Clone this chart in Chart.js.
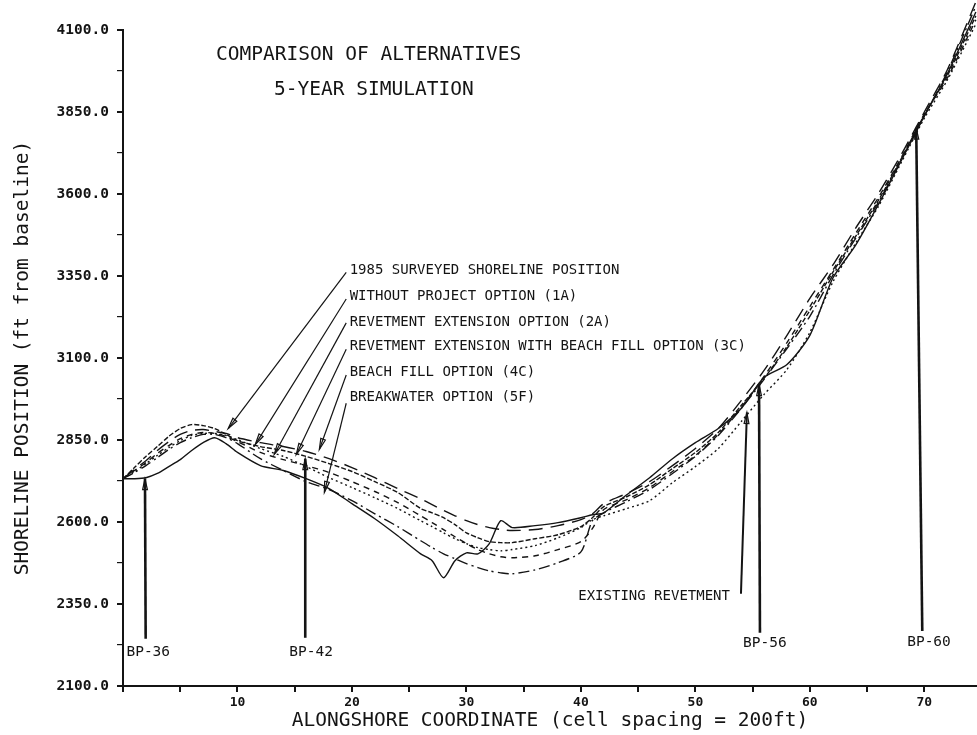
<!DOCTYPE html>
<html>
<head>
<meta charset="utf-8">
<script src="https://cdn.jsdelivr.net/npm/chart.js@4.4.1/dist/chart.umd.min.js"></script>
<style>
  html, body { margin: 0; padding: 0; background: #fff; }
</style>
</head>
<body>
<canvas id="myChart" width="977" height="735"></canvas>
<script>
// alongshore cell numbers (cell spacing = 200 ft)
const cells = [0, 1, 2, 3, 4, 5, 6, 7, 8, 9, 10, 12, 14, 16, 18, 20, 22, 24, 26, 27, 28, 29, 30, 31, 32, 33, 34,
    36, 38, 40, 41, 42, 44, 46, 48, 50, 52, 54, 56, 58, 60, 62, 64, 66, 68, 70, 72, 74.5];

// shoreline position, ft from baseline
const survey1985 = [2732, 2732, 2735, 2748, 2769, 2790, 2818, 2842, 2857, 2839, 2812, 2772, 2757, 2732, 2702, 2656,
    2610, 2558, 2503, 2482, 2430, 2482, 2506, 2503, 2534, 2604, 2583, 2589, 2598, 2613, 2622, 2628, 2683, 2735, 2793,
    2842, 2885, 2946, 3041, 3080, 3169, 3343, 3444, 3569, 3703, 3838, 3966, 4155];
const withoutProject1A = [2732, 2766, 2800, 2830, 2861, 2885, 2897, 2894, 2885, 2867, 2848, 2830, 2818, 2800, 2778,
    2754, 2723, 2690, 2641, 2628, 2613, 2592, 2567, 2552, 2540, 2537, 2537, 2549, 2561, 2586, 2613, 2647, 2677, 2714,
    2763, 2812, 2873, 2955, 3038, 3135, 3245, 3361, 3471, 3581, 3709, 3841, 3960, 4143];
const revetment2A = [2732, 2760, 2787, 2818, 2845, 2867, 2879, 2882, 2876, 2870, 2857, 2842, 2830, 2815, 2793, 2766,
    2735, 2702, 2671, 2653, 2635, 2619, 2604, 2592, 2583, 2577, 2574, 2577, 2589, 2607, 2625, 2656, 2687, 2723, 2772,
    2824, 2885, 2970, 3062, 3169, 3282, 3383, 3496, 3602, 3721, 3850, 3978, 4186];
const revetmentFill3C = [2732, 2757, 2781, 2809, 2833, 2854, 2867, 2873, 2870, 2861, 2845, 2812, 2790, 2772, 2751,
    2723, 2693, 2659, 2619, 2598, 2577, 2555, 2534, 2516, 2503, 2494, 2491, 2497, 2516, 2540, 2580, 2638, 2668, 2705,
    2754, 2803, 2867, 2949, 3044, 3147, 3257, 3367, 3480, 3590, 3712, 3844, 3953, 4131];
const beachFill4C = [2732, 2754, 2778, 2803, 2827, 2848, 2864, 2870, 2870, 2864, 2851, 2824, 2800, 2769, 2735, 2705,
    2674, 2641, 2604, 2586, 2567, 2549, 2534, 2522, 2516, 2512, 2516, 2528, 2552, 2583, 2607, 2619, 2641, 2665, 2720,
    2769, 2824, 2906, 2989, 3065, 3178, 3331, 3450, 3563, 3697, 3831, 3947, 4118];
const breakwater5F = [2732, 2751, 2772, 2796, 2821, 2842, 2857, 2867, 2867, 2857, 2839, 2793, 2757, 2723, 2699, 2665,
    2625, 2586, 2543, 2522, 2503, 2488, 2473, 2461, 2451, 2445, 2442, 2454, 2476, 2509, 2604, 2628, 2662, 2699, 2748,
    2800, 2864, 2946, 3035, 3129, 3227, 3352, 3465, 3575, 3706, 3838, 3972, 4173];

const seriesNames = [
    '1985 SURVEYED SHORELINE POSITION',
    'WITHOUT PROJECT OPTION (1A)',
    'REVETMENT EXTENSION OPTION (2A)',
    'REVETMENT EXTENSION WITH BEACH FILL OPTION (3C)',
    'BEACH FILL OPTION (4C)',
    'BREAKWATER OPTION (5F)'
];
const seriesValues = [survey1985, withoutProject1A, revetment2A, revetmentFill3C, beachFill4C, breakwater5F];
const seriesDashes = [[], [5, 2], [14, 8], [6, 5], [2, 3], [11, 4, 2, 4]];

const yTickLabels = [2100, 2350, 2600, 2850, 3100, 3350, 3600, 3850, 4100];
const xTickLabels = [10, 20, 30, 40, 50, 60, 70];

// text notes placed in data units
const titleLines = [
    { text: 'COMPARISON OF ALTERNATIVES', x: 8.13, y: 4025 },
    { text: '5-YEAR SIMULATION', x: 13.2, y: 3918 }
];
// label y, leader start y, leader tip (cell, ft)
const legendNotes = [
    { y: 3367, from: 3361, tip: [9.19, 2885] },
    { y: 3288, from: 3280, tip: [11.55, 2836] },
    { y: 3210, from: 3207, tip: [13.21, 2806] },
    { y: 3134, from: 3127, tip: [15.14, 2806] },
    { y: 3055, from: 3048, tip: [17.15, 2821] },
    { y: 2979, from: 2962, tip: [17.59, 2690] }
];
const bpMarks = [
    { text: 'BP-36', base: [1.98, 2244], tip: [1.92, 2732], lx: 0.3, ly: 2204 },
    { text: 'BP-42', base: [15.92, 2247], tip: [15.92, 2793], lx: 14.52, ly: 2204 },
    { text: 'BP-56', base: [55.64, 2262], tip: [55.56, 3019], lx: 54.16, ly: 2229 },
    { text: 'BP-60', base: [69.82, 2268], tip: [69.29, 3801], lx: 68.5, ly: 2232 }
];
const revetmentNote = { text: 'EXISTING REVETMENT', base: [53.98, 2381], tip: [54.5, 2934], lx: 53.02, ly: 2372 };

const MONO = '"DejaVu Sans Mono", "Liberation Mono", monospace';
const INK = '#141414';

function arrow(ctx, x1, y1, x2, y2, w) {
    ctx.lineWidth = w;
    ctx.beginPath();
    ctx.moveTo(x1, y1);
    ctx.lineTo(x2, y2);
    ctx.stroke();
    const a = Math.atan2(y2 - y1, x2 - x1), L = 11, H = 2.4;
    ctx.lineWidth = 1.2;
    ctx.beginPath();
    ctx.moveTo(x2, y2);
    ctx.lineTo(x2 - L * Math.cos(a) + H * Math.sin(a), y2 - L * Math.sin(a) - H * Math.cos(a));
    ctx.lineTo(x2 - L * Math.cos(a) - H * Math.sin(a), y2 - L * Math.sin(a) + H * Math.cos(a));
    ctx.closePath();
    ctx.stroke();
}

const notesPlugin = {
    id: 'notes',
    afterDatasetsDraw(chart) {
        const { ctx } = chart;
        const sx = chart.scales.x, sy = chart.scales.y;
        const px = v => sx.getPixelForValue(v);
        const py = v => sy.getPixelForValue(v);
        ctx.save();
        ctx.fillStyle = INK;
        ctx.strokeStyle = INK;
        ctx.textBaseline = 'middle';

        ctx.font = '19.5px ' + MONO;
        titleLines.forEach(t => ctx.fillText(t.text, px(t.x), py(t.y)));

        ctx.font = '14px ' + MONO;
        legendNotes.forEach((n, i) => {
            ctx.textAlign = 'left';
            ctx.fillText(seriesNames[i], px(19.8), py(n.y));
            arrow(ctx, px(19.5), py(n.from), px(n.tip[0]), py(n.tip[1]), 1.2);
        });

        ctx.font = '14.5px ' + MONO;
        bpMarks.forEach(b => {
            arrow(ctx, px(b.base[0]), py(b.base[1]), px(b.tip[0]), py(b.tip[1]), 2.6);
            ctx.textAlign = 'left';
            ctx.fillText(b.text, px(b.lx), py(b.ly));
        });
        const r = revetmentNote;
        arrow(ctx, px(r.base[0]), py(r.base[1]), px(r.tip[0]), py(r.tip[1]), 2);
        ctx.font = '14px ' + MONO;
        ctx.textAlign = 'right';
        ctx.fillText(r.text, px(r.lx), py(r.ly));
        ctx.restore();
    }
};

const ctx = document.getElementById('myChart');
new Chart(ctx, {
    type: 'line',
    data: {
        datasets: seriesNames.map((name, i) => ({
            label: name,
            data: cells.map((c, j) => ({ x: c, y: seriesValues[i][j] })),
            borderColor: INK,
            borderWidth: 1.4,
            borderDash: seriesDashes[i],
            pointRadius: 0,
            tension: 0.25,
            fill: false,
            clip: false
        }))
    },
    options: {
        responsive: false,
        animation: false,
        devicePixelRatio: 1,
        layout: { padding: { top: 30, right: 0, bottom: 0, left: 0 } },
        plugins: { legend: { display: false }, tooltip: { enabled: false } },
        scales: {
            x: {
                type: 'linear',
                min: 0,
                max: 74.6,
                afterBuildTicks: s => { s.ticks = s.ticks.filter(t => t.value % 5 === 0); },
                afterFit: s => { s.height = 49; },
                ticks: {
                    stepSize: 5,
                    autoSkip: false,
                    maxRotation: 0,
                    padding: 3,
                    color: INK,
                    font: { family: MONO, size: 13, weight: 'bold' },
                    callback: v => xTickLabels.includes(v) ? String(v) : ''
                },
                grid: { drawOnChartArea: false, drawTicks: true, tickLength: 6, color: INK, lineWidth: 2 },
                border: { display: true, color: INK, width: 2 },
                title: {
                    display: true,
                    text: 'ALONGSHORE COORDINATE (cell spacing = 200ft)',
                    color: INK,
                    font: { family: MONO, size: 19.5 },
                    padding: { top: 0, bottom: 2 }
                }
            },
            y: {
                type: 'linear',
                min: 2100,
                max: 4100,
                afterFit: s => { s.width = 123; },
                ticks: {
                    stepSize: 125,
                    autoSkip: false,
                    padding: 8,
                    color: INK,
                    font: { family: MONO, size: 14.5, weight: 'bold' },
                    callback: v => yTickLabels.includes(v) ? v.toFixed(1) : ''
                },
                grid: {
                    drawOnChartArea: false, drawTicks: true, tickLength: 6, color: INK,
                    lineWidth: c => (c.tick && yTickLabels.includes(c.tick.value)) ? 2 : 1.2
                },
                border: { display: true, color: INK, width: 2 },
                title: {
                    display: true,
                    text: 'SHORELINE POSITION (ft from baseline)',
                    color: INK,
                    font: { family: MONO, size: 19.5 },
                    padding: { top: 11, bottom: 0 }
                }
            }
        }
    },
    plugins: [notesPlugin]
});
</script>
</body>
</html>
